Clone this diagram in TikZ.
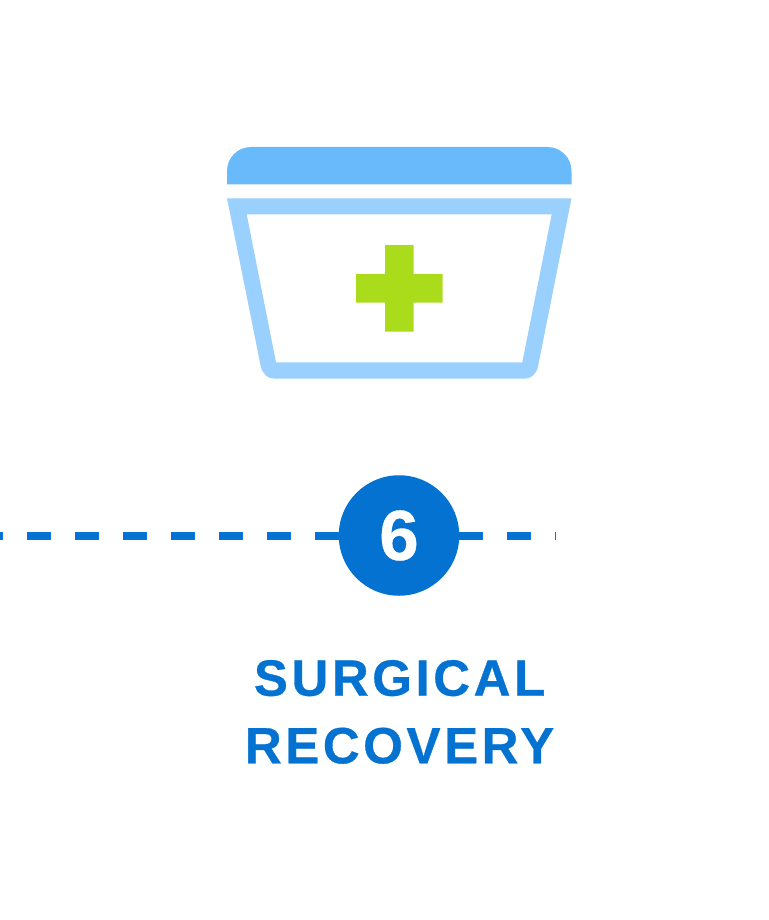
\documentclass[tikz,border=0pt]{standalone}
\usepackage{fontspec}
\setmainfont[BoldFeatures={FakeBold=0.5}]{Liberation Sans}
\newfontfamily\labelfont[LetterSpace=7,BoldFeatures={FakeBold=0.6}]{Liberation Sans}
\definecolor{lidblue}{HTML}{69BAFB}
\definecolor{bodyblue}{HTML}{99D0FD}
\definecolor{crossgreen}{HTML}{ABDC1C}
\definecolor{deepblue}{HTML}{0372D0}
\tikzset{
  titletext/.style={anchor=base,inner sep=0pt,text=deepblue,font=\labelfont\bfseries\fontsize{51}{60}\selectfont},
  stepdot/.style={circle,fill=deepblue,draw=none,minimum size=120.5pt,inner sep=0pt,text=white,font=\bfseries\fontsize{71}{74}\selectfont},
  dashline/.style={draw=deepblue,line width=8pt,dash pattern=on 24pt off 24pt}
}
\begin{document}
\begin{tikzpicture}[x=1pt,y=-1pt]
\useasboundingbox (0,0) rectangle (768,920);
% lid
\fill[lidblue] (227,184.5) -- (227,171) arc[start angle=180,end angle=270,radius=24] -- (547.5,147) arc[start angle=270,end angle=360,radius=24] -- (571.5,184.5) -- cycle;
% body
\fill[bodyblue,even odd rule]
  (227,198.3) -- (571.5,198.3) -- (538.2,365.5)
  .. controls (536.8,373.5) and (532,378.7) .. (523,378.7)
  -- (276,378.7)
  .. controls (267,378.7) and (262.2,373.5) .. (260.6,365.5) -- cycle
  (246.7,214.3) -- (551.7,214.3) -- (522.3,362.3) -- (276,362.3) -- cycle;
% cross
\fill[crossgreen] (385,245) -- (413.7,245) -- (413.7,274) -- (442.7,274) -- (442.7,302.7) -- (413.7,302.7) -- (413.7,331.7) -- (385,331.7) -- (385,302.7) -- (356,302.7) -- (356,274) -- (385,274) -- cycle;
% timeline
\coordinate (linestart) at (-21,535.7);
\coordinate (lineend) at (556,535.7);
\draw[dashline] (linestart) -- (lineend);
\node[stepdot] (six) at (399,535.5) {6};
\node[titletext] (surgical) at (399.6,695.7) {SURGICAL};
\node[titletext] (recovery) at (399.6,763.3) {RECOVERY};
\end{tikzpicture}
\end{document}
